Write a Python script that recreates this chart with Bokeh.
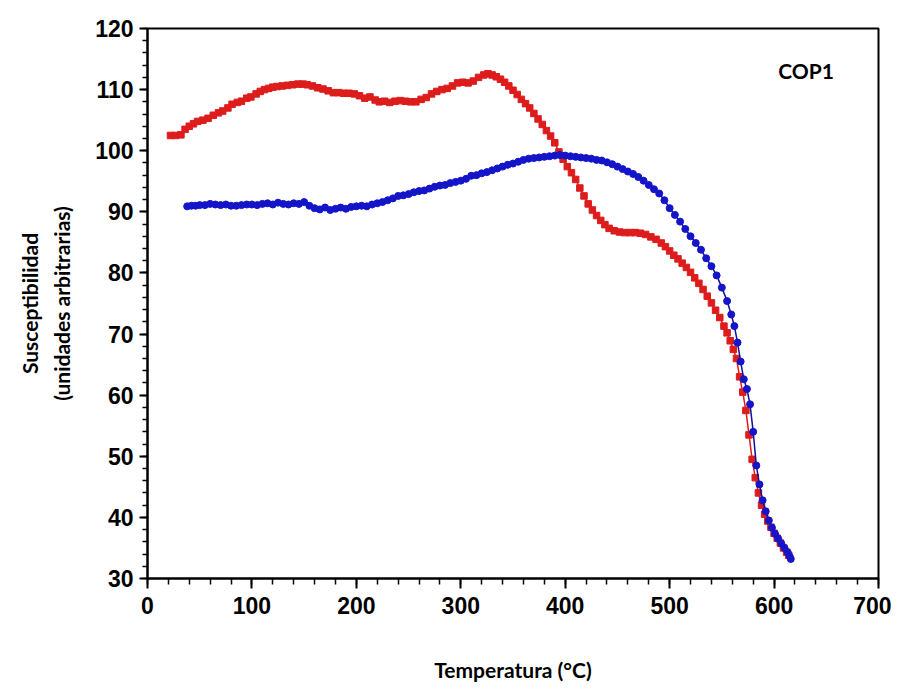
from bokeh.plotting import figure
from bokeh.models import SingleIntervalTicker, Label, Range1d
from bokeh.embed import file_html
from bokeh.resources import INLINE

# Red series (heating curve)
red_t = [22, 27, 32, 36, 40, 44, 48, 53, 58, 63, 68, 72, 77, 81, 86, 90, 95, 99, 104, 108,
         112, 116, 120, 124, 129, 134, 139, 144, 149, 153, 158, 163, 168, 173, 178, 183, 188,
         193, 198, 203, 208, 213, 218, 222, 227, 232, 237, 242, 247, 252, 257, 262, 267, 272,
         277, 282, 287, 292, 297, 302, 307, 312, 317, 322, 326, 330, 334, 338, 342, 346, 350,
         354, 358, 362, 366, 370, 374, 378, 382, 386, 390, 394, 398, 402, 406, 410, 414, 418,
         422, 426, 430, 434, 438, 442, 447, 452, 457, 462, 467, 472, 477, 482, 487, 492, 496,
         500, 504, 508, 512, 516, 520, 524, 528, 532, 536, 540, 544, 548, 552, 555, 558, 561,
         564, 567, 570, 573, 576, 579, 582, 585, 588, 591, 594, 597, 600, 603, 606, 609, 612, 614]
red_s = [102.5, 102.5, 102.6, 103.5, 104.0, 104.4, 104.8, 105.0, 105.3, 105.8, 106.2, 106.5,
         107.0, 107.6, 107.9, 108.1, 108.6, 108.8, 109.3, 109.7, 110.0, 110.2, 110.4, 110.5,
         110.6, 110.7, 110.8, 110.9, 110.9, 110.8, 110.6, 110.3, 110.1, 109.8, 109.5, 109.5,
         109.4, 109.4, 109.3, 109.0, 108.6, 108.8, 108.3, 108.0, 108.1, 107.9, 108.1, 108.2,
         108.1, 108.0, 108.0, 108.4, 108.7, 109.3, 109.7, 110.0, 110.2, 110.6, 111.1, 111.2,
         111.1, 111.4, 112.0, 112.4, 112.6, 112.4, 112.1, 111.7, 111.2, 110.6, 109.9, 109.2,
         108.4, 107.7, 107.0, 106.1, 105.2, 104.3, 103.3, 102.4, 101.3, 99.8, 98.6, 97.4, 96.4,
         95.3, 93.9, 92.6, 91.3, 90.3, 89.4, 88.6, 87.9, 87.3, 86.9, 86.7, 86.6, 86.6, 86.6,
         86.5, 86.3, 85.9, 85.5, 84.9, 84.3, 83.6, 82.9, 82.3, 81.6, 80.9, 80.1, 79.2, 78.3,
         77.3, 76.2, 75.1, 73.9, 72.7, 71.3, 70.2, 68.9, 67.5, 66.0, 63.0, 60.5, 57.5, 53.5,
         49.5, 46.5, 44.0, 42.0, 40.5, 39.4, 38.4, 37.4, 36.6, 35.8, 35.0, 34.3, 33.8]

# Blue series (cooling curve)
blue_t = [38, 42, 46, 50, 55, 60, 65, 70, 75, 80, 85, 90, 95, 100, 105, 110, 115, 120, 125,
          130, 135, 140, 145, 150, 155, 160, 165, 170, 175, 180, 185, 190, 195, 200, 205, 210,
          215, 220, 225, 230, 235, 240, 245, 250, 255, 260, 265, 270, 275, 280, 285, 290, 295,
          300, 305, 310, 315, 320, 325, 330, 335, 340, 345, 350, 355, 360, 365, 370, 375, 380,
          385, 390, 395, 400, 405, 410, 415, 420, 425, 430, 435, 440, 445, 450, 455, 460, 465,
          470, 475, 480, 485, 490, 495, 500, 505, 510, 515, 520, 525, 530, 535, 540, 545, 550,
          555, 559, 562, 565, 568, 571, 574, 577, 580, 583, 586, 589, 592, 595, 598, 601, 604,
          607, 610, 613, 615, 616]
blue_s = [90.9, 91.0, 91.0, 91.1, 91.1, 91.3, 91.2, 91.1, 91.2, 91.0, 91.0, 91.1, 91.2, 91.2,
          91.1, 91.3, 91.4, 91.2, 91.5, 91.3, 91.2, 91.4, 91.3, 91.6, 91.0, 90.6, 90.4, 90.7,
          90.3, 90.5, 90.7, 90.5, 90.8, 90.9, 91.0, 90.9, 91.2, 91.4, 91.6, 91.9, 92.2, 92.6,
          92.7, 92.9, 93.2, 93.4, 93.5, 93.8, 94.1, 94.3, 94.4, 94.7, 94.9, 95.1, 95.4, 95.9,
          96.0, 96.3, 96.5, 96.8, 97.1, 97.4, 97.7, 97.9, 98.2, 98.5, 98.7, 98.8, 98.9, 99.0,
          99.1, 99.2, 99.3, 99.2, 99.1, 99.0, 98.9, 98.8, 98.7, 98.5, 98.4, 98.1, 97.8, 97.4,
          97.0, 96.6, 96.2, 95.7, 95.1, 94.4, 93.7, 93.0, 91.9, 90.6, 89.5, 88.4, 87.2, 86.0,
          84.9, 83.8, 82.4, 81.1, 79.6, 77.6, 75.4, 73.2, 71.3, 68.6, 65.5, 62.6, 61.0, 58.5,
          54.0, 48.5, 45.4, 42.8, 41.0, 39.5, 38.3, 37.3, 36.5, 35.7, 35.0, 34.3, 33.6, 33.2]

x_title = "Temperatura (°C)"
y_title = "Susceptibilidad\n(unidades arbitrarias)"
sample_label = "COP1"

p = figure(width=891, height=690, output_backend="svg", toolbar_location=None,
           x_range=Range1d(0, 700), y_range=Range1d(30, 120))
p.min_border_left = 147
p.min_border_right = 13
p.min_border_top = 28
p.min_border_bottom = 112
p.background_fill_color = "white"
p.border_fill_color = "white"
p.xgrid.visible = False
p.ygrid.visible = False
p.outline_line_color = "black"
p.outline_line_width = 2

p.line(red_t, red_s, line_color="#dd1c1c", line_width=1.5)
p.scatter(red_t, red_s, marker="square", size=6.5, fill_color="#dd1c1c", line_color="#dd1c1c")
p.line(blue_t, blue_s, line_color="#10109a", line_width=1.5)
p.scatter(blue_t, blue_s, marker="circle", size=7, fill_color="#1414c8", line_color="#1414c8")

xa = p.xaxis[0]
xa.ticker = SingleIntervalTicker(interval=100, num_minor_ticks=5)
ya = p.yaxis[0]
ya.ticker = SingleIntervalTicker(interval=10, num_minor_ticks=5)
for ax in (xa, ya):
    ax.axis_line_color = "black"
    ax.axis_line_width = 2
    ax.major_tick_line_color = "black"
    ax.major_tick_line_width = 2
    ax.minor_tick_line_color = "black"
    ax.minor_tick_line_width = 1.5
    ax.major_tick_in = 0
    ax.minor_tick_in = 0
    ax.major_label_text_font = "Liberation Sans"
    ax.major_label_text_font_style = "bold"
    ax.major_label_text_font_size = "23px"
    ax.major_label_text_color = "black"
    ax.axis_label_text_font = "Lato"
    ax.axis_label_text_font_style = "bold"
    ax.axis_label_text_font_size = "21px"
    ax.axis_label_text_color = "black"

xa.major_tick_out = 10
xa.minor_tick_out = 6
xa.major_label_standoff = 8
xa.axis_label = x_title
xa.axis_label_standoff = 40

ya.major_tick_out = 8
ya.minor_tick_out = 5
ya.major_label_standoff = 6
ya.axis_label = y_title
ya.axis_label_standoff = 18
ya.axis_label_text_line_height = 1.3

p.add_layout(Label(x=604, y=113.1, text=sample_label, text_font="Lato",
                   text_font_style="bold", text_font_size="21px", text_color="black",
                   text_baseline="middle"))

open("out.html", "w").write(file_html(p, INLINE))
